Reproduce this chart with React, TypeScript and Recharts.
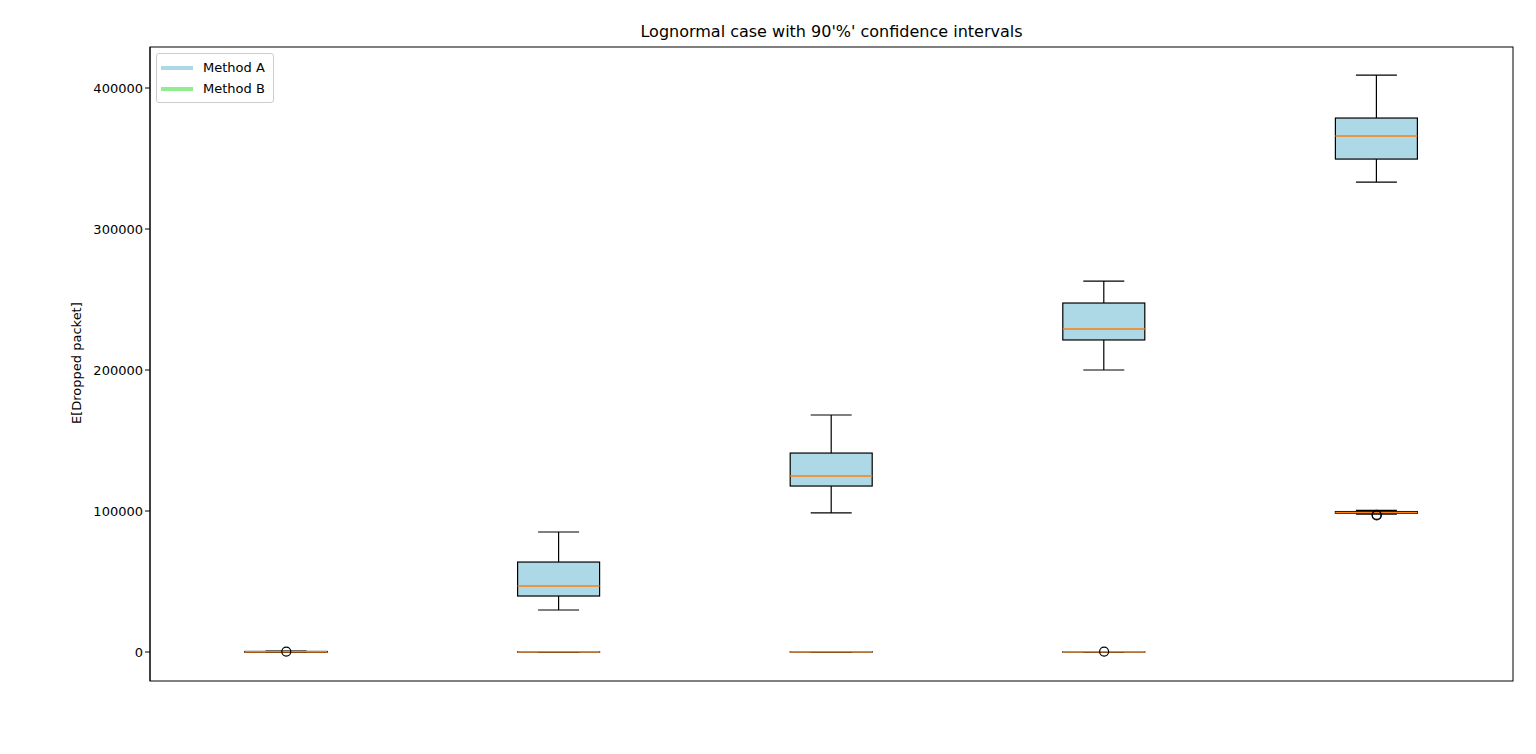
import React from "react"
import {
  ComposedChart,
  Bar,
  Scatter,
  XAxis,
  YAxis,
} from "recharts"

const categories = ["100", "200", "300", "400", "500"]

// Method A box statistics
const aLow = [0, 29800, 98600, 200000, 333300]
const aQ1 = [0, 39700, 117700, 221300, 349600]
const aMed = [200, 46800, 124800, 229100, 366000]
const aQ3 = [400, 63800, 141100, 247500, 378700]
const aHigh = [700, 85100, 168100, 263100, 409200]

// Method B box statistics
const bLow = [0, 0, 0, 0, 97800]
const bQ1 = [0, 0, 0, 0, 98400]
const bMed = [100, 100, 100, 100, 99000]
const bQ3 = [200, 200, 200, 200, 99600]
const bHigh = [300, 300, 300, 300, 100400]

// outliers (null = none)
const outA = [300, null, null, 300, 96800]
const outB = [null, null, null, null, 97300]

const yTicks = [0, 100000, 200000, 300000, 400000]

const data = categories.map((n, i) => ({
  n,
  aW: [aLow[i], aHigh[i]],
  aB: [aQ1[i], aQ3[i]],
  aM: [aMed[i], aMed[i]],
  bW: [bLow[i], bHigh[i]],
  bB: [bQ1[i], bQ3[i]],
  bM: [bMed[i], bMed[i]],
  oA: outA[i],
  oB: outB[i],
}))

const Whisker = (props: any) => {
  const { x, y, width, height } = props
  const top = Math.min(y, y + height)
  const bot = Math.max(y, y + height)
  const cx = x + width / 2
  return (
    <g stroke="#000" strokeWidth={1.2}>
      <line x1={cx} x2={cx} y1={top} y2={bot} />
      <line x1={cx - width / 4} x2={cx + width / 4} y1={top} y2={top} />
      <line x1={cx - width / 4} x2={cx + width / 4} y1={bot} y2={bot} />
    </g>
  )
}

const makeBox = (fill: string) => (props: any) => {
  const { x, y, width, height } = props
  const top = Math.min(y, y + height)
  return (
    <rect x={x} y={top} width={width} height={Math.abs(height)} fill={fill} stroke="#000" strokeWidth={1.2} />
  )
}

const Median = (props: any) => {
  const { x, y, width, height } = props
  const my = y + height / 2
  return <line x1={x} x2={x + width} y1={my} y2={my} stroke="#ff7f0e" strokeWidth={1.5} />
}

const Outlier = (props: any) =>
  props.cy == null || props.payload?.[props.k] == null ? <g /> : (
    <circle cx={props.cx} cy={props.cy} r={4.5} fill="none" stroke="#000" strokeWidth={1.2} />
  )

const tickStyle = { fill: "#000", fontSize: 13 }

export default function App() {
  const ids = ["w", "b", "m", "w2", "b2", "m2"]
  return (
    <div style={{ position: "fixed", left: 0, top: 0, width: 1536, height: 754, background: "#fff", fontFamily: "DejaVu Sans, sans-serif" }}>
      <div style={{ position: "absolute", top: 22, width: 1363, textAlign: "center", left: 150, fontSize: 16 }}>
        Lognormal case with 90'%' confidence intervals
      </div>
      <ComposedChart width={1536} height={754} data={data} margin={{ top: 47, right: 23, bottom: 43, left: 80 }}>
        <XAxis
          xAxisId="main"
          dataKey="n"
          type="category"
          height={30}
          tick={tickStyle}
          tickLine={{ stroke: "#000" }}
          axisLine={{ stroke: "#000" }}
          tickSize={5}
          label={{ value: "N", position: "insideBottom", offset: -18, fill: "#000", fontSize: 13 }}
        />
        {ids.map((id) => (
          <XAxis key={id} xAxisId={id} dataKey="n" type="category" hide />
        ))}
        <YAxis
          domain={[-20567, 429078]}
          ticks={yTicks}
          allowDataOverflow
          width={70}
          tick={tickStyle}
          tickLine={{ stroke: "#000" }}
          axisLine={{ stroke: "#000" }}
          tickSize={5}
          label={{ value: "E[Dropped packet]", angle: -90, position: "insideLeft", offset: -4, fill: "#000", fontSize: 13, dy: 60 }}
        />
        <Bar xAxisId="w" dataKey="aW" barSize={82} shape={Whisker} isAnimationActive={false} />
        <Bar xAxisId="b" dataKey="aB" barSize={82} shape={makeBox("#add8e6")} isAnimationActive={false} />
        <Bar xAxisId="m" dataKey="aM" barSize={82} shape={Median} isAnimationActive={false} />
        <Bar xAxisId="w2" dataKey="bW" barSize={82} shape={Whisker} isAnimationActive={false} />
        <Bar xAxisId="b2" dataKey="bB" barSize={82} shape={makeBox("#90ee90")} isAnimationActive={false} />
        <Bar xAxisId="m2" dataKey="bM" barSize={82} shape={Median} isAnimationActive={false} />
        <Scatter xAxisId="main" dataKey="oA" shape={(p: any) => <Outlier {...p} k="oA" />} isAnimationActive={false} />
        <Scatter xAxisId="main" dataKey="oB" shape={(p: any) => <Outlier {...p} k="oB" />} isAnimationActive={false} />
        {/* plot frame */}
        <rect x={150} y={47} width={1363} height={634} fill="none" stroke="#000" />
      </ComposedChart>
      <div style={{ position: "absolute", left: 156, top: 53, border: "1px solid #ccc", borderRadius: 3, padding: "3px 8px 3px 4px", fontSize: 13, background: "#fff" }}>
        {[["Method A", "#add8e6"], ["Method B", "#90ee90"]].map(([name, c]) => (
          <div key={name} style={{ display: "flex", alignItems: "center", height: 21 }}>
            <span style={{ display: "inline-block", width: 32, height: 4, background: c, marginRight: 10 }} />
            {name}
          </div>
        ))}
      </div>
    </div>
  )
}
